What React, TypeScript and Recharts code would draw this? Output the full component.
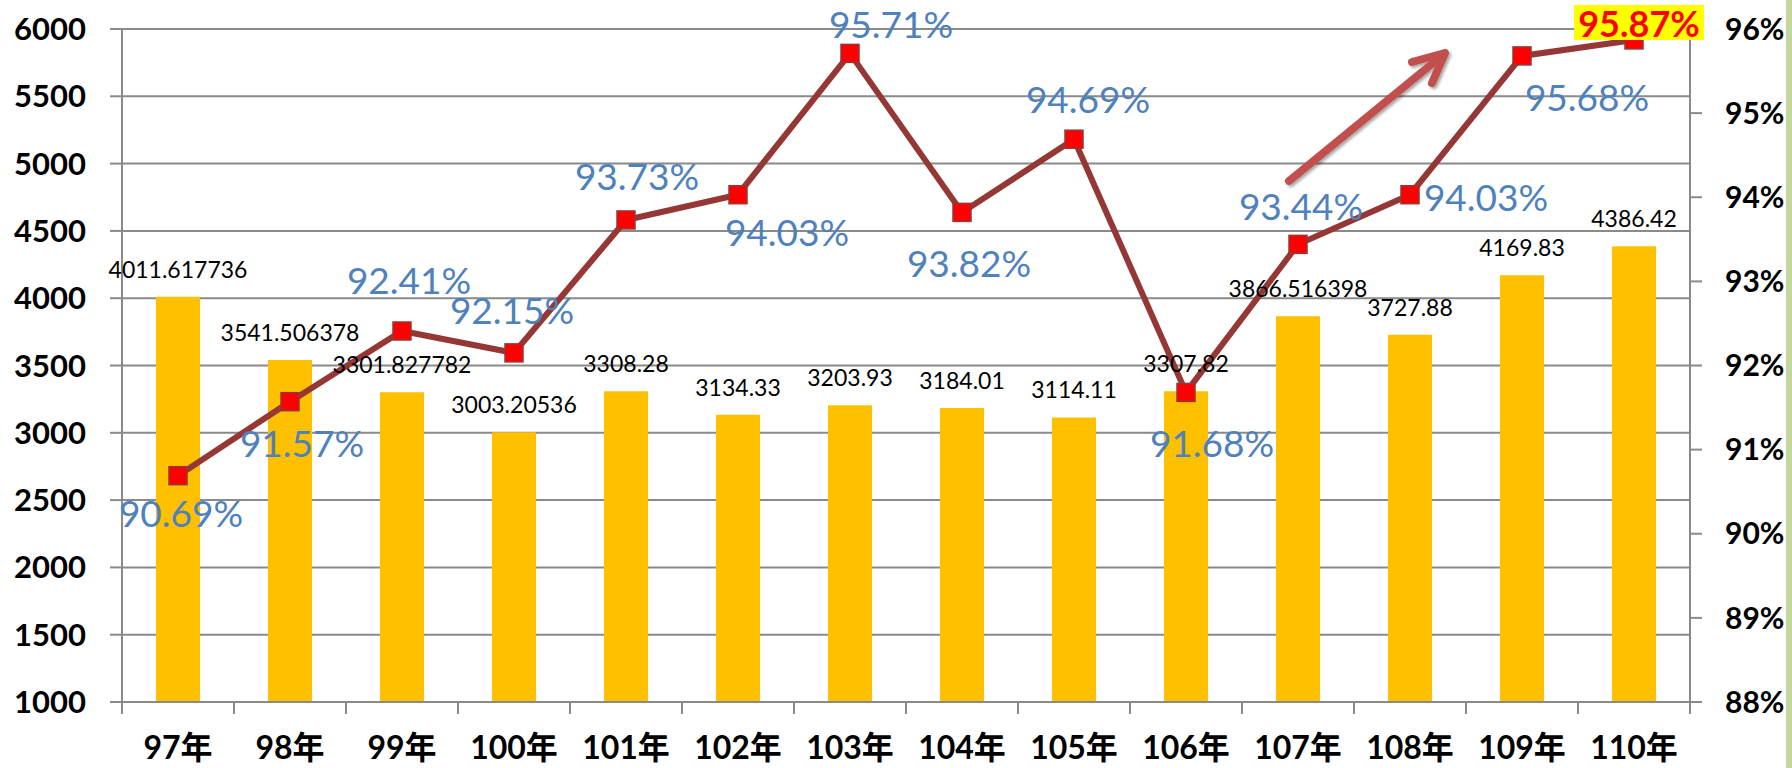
import React from "react";
import {
  ComposedChart,
  Bar,
  Line,
  XAxis,
  YAxis,
  CartesianGrid,
  LabelList,
} from "recharts";

const years = [
  "97年", "98年", "99年", "100年", "101年", "102年", "103年",
  "104年", "105年", "106年", "107年", "108年", "109年", "110年",
];

const amounts = [
  4011.617736, 3541.506378, 3301.827782, 3003.20536, 3308.28, 3134.33, 3203.93,
  3184.01, 3114.11, 3307.82, 3866.516398, 3727.88, 4169.83, 4386.42,
];

const rates = [
  90.69, 91.57, 92.41, 92.15, 93.73, 94.03, 95.71,
  93.82, 94.69, 91.68, 93.44, 94.03, 95.68, 95.87,
];

const leftTicks = [1000, 1500, 2000, 2500, 3000, 3500, 4000, 4500, 5000, 5500, 6000];
const rightTicks = [88, 89, 90, 91, 92, 93, 94, 95, 96];

// where each rate label sits relative to its marker (dx, dy)
const rateLabelOffsets = [
  [3, 37], [12, 41], [7, -52], [-2, -43], [11, -44], [49, 37], [41, -30],
  [7, 50], [14, -41], [26, 50], [3, -39], [76, 2], [65, 41], [5, -17],
];

const W = 1792;
const H = 768;
const LEFT_W = 122;
const RIGHT_W = 102;
const PLOT_W = W - LEFT_W - RIGHT_W;
const GRID = "#8a8a8a";
const FONT = "Lato, 'Noto Sans CJK TC', sans-serif";

const data = years.map((year, i) => ({
  year,
  amount: amounts[i],
  rate: rates[i],
}));

const YearTick = (props: any) => {
  const { x, y, payload, index } = props;
  const bw = PLOT_W / years.length;
  return (
    <g>
      <line x1={x - bw / 2} y1={y} x2={x - bw / 2} y2={y + 12} stroke={GRID} strokeWidth={2} />
      {index === years.length - 1 && (
        <line x1={x + bw / 2} y1={y} x2={x + bw / 2} y2={y + 12} stroke={GRID} strokeWidth={2} />
      )}
      <text
        x={x}
        y={y + 57}
        textAnchor="middle"
        fontFamily={FONT}
        fontWeight="bold"
        fontSize={32}
        fill="#000"
      >
        {payload.value}
      </text>
    </g>
  );
};

const SquareDot = (props: any) => {
  const { cx, cy } = props;
  if (cx == null || cy == null) return null;
  return (
    <rect
      x={cx - 9}
      y={cy - 9}
      width={18}
      height={18}
      fill="#ff0000"
      stroke="#953735"
      strokeWidth={1.5}
    />
  );
};

const RateLabel = (props: any) => {
  const { x, y, value, index } = props;
  const [dx, dy] = rateLabelOffsets[index] || [0, -30];
  const text = `${Number(value).toFixed(2)}%`;
  if (index === years.length - 1) {
    return (
      <g>
        <rect x={x + dx - 65} y={y + dy - 18} width={130} height={35} fill="#ffff00" />
        <text
          x={x + dx}
          y={y + dy}
          textAnchor="middle"
          dominantBaseline="central"
          fontFamily={FONT}
          fontWeight="bold"
          fontSize={36}
          fill="#ff0000"
        >
          {text}
        </text>
      </g>
    );
  }
  return (
    <text
      x={x + dx}
      y={y + dy}
      textAnchor="middle"
      dominantBaseline="central"
      fontFamily={FONT}
      fontSize={37}
      fill="#4f81bd"
    >
      {text}
    </text>
  );
};

export default function App() {
  return (
    <div style={{ position: "absolute", left: 0, top: 0, width: W, height: H, background: "#fff" }}>
      <ComposedChart
        width={W}
        height={H}
        data={data}
        margin={{ top: 29, right: 0, bottom: 0, left: 0 }}
      >
        <CartesianGrid yAxisId="left" vertical={false} stroke={GRID} strokeWidth={2} />
        <XAxis
          dataKey="year"
          height={66}
          interval={0}
          tickLine={false}
          tickSize={0}
          tickMargin={0}
          axisLine={{ stroke: GRID, strokeWidth: 2 }}
          tick={<YearTick />}
        />
        <YAxis
          yAxisId="left"
          width={LEFT_W}
          domain={[1000, 6000]}
          ticks={leftTicks}
          interval={0}
          tickSize={12}
          tickMargin={24}
          axisLine={{ stroke: GRID, strokeWidth: 2 }}
          tickLine={{ stroke: GRID, strokeWidth: 2 }}
          tick={{ fill: "#000", fontSize: 31, fontWeight: "bold", fontFamily: FONT }}
        />
        <YAxis
          yAxisId="right"
          orientation="right"
          width={RIGHT_W}
          domain={[88, 96]}
          ticks={rightTicks}
          interval={0}
          tickSize={12}
          tickMargin={23}
          tickFormatter={(v: number) => `${v}%`}
          axisLine={{ stroke: GRID, strokeWidth: 2 }}
          tickLine={{ stroke: GRID, strokeWidth: 2 }}
          tick={{ fill: "#000", fontSize: 30, fontWeight: "bold", fontFamily: FONT }}
        />
        <Bar yAxisId="left" dataKey="amount" fill="#ffc000" barSize={44} isAnimationActive={false}>
          <LabelList
            dataKey="amount"
            position="top"
            offset={19}
            fill="#000"
            fontSize={23}
            fontFamily={FONT}
          />
        </Bar>
        <Line
          yAxisId="right"
          dataKey="rate"
          stroke="#953735"
          strokeWidth={6}
          dot={<SquareDot />}
          activeDot={false}
          isAnimationActive={false}
        >
          <LabelList dataKey="rate" content={<RateLabel />} />
        </Line>
      </ComposedChart>
      <svg
        width={W}
        height={H}
        style={{ position: "absolute", left: 0, top: 0, pointerEvents: "none" }}
      >
        <defs>
          <filter id="arrowShadow" x="-20%" y="-20%" width="140%" height="140%">
            <feDropShadow dx="2" dy="2" stdDeviation="1.5" floodOpacity="0.35" />
          </filter>
        </defs>
        <g
          filter="url(#arrowShadow)"
          stroke="#c0504d"
          strokeWidth={8}
          strokeLinecap="round"
          strokeLinejoin="round"
          fill="none"
        >
          <line x1={1289} y1={181} x2={1444} y2={54} />
          <polyline points="1412,62 1445,53 1432,83" />
        </g>
      </svg>
      <div
        style={{
          position: "absolute",
          left: 1786,
          top: 0,
          width: 6,
          height: H,
          background: "#c3d69b",
        }}
      />
    </div>
  );
}
